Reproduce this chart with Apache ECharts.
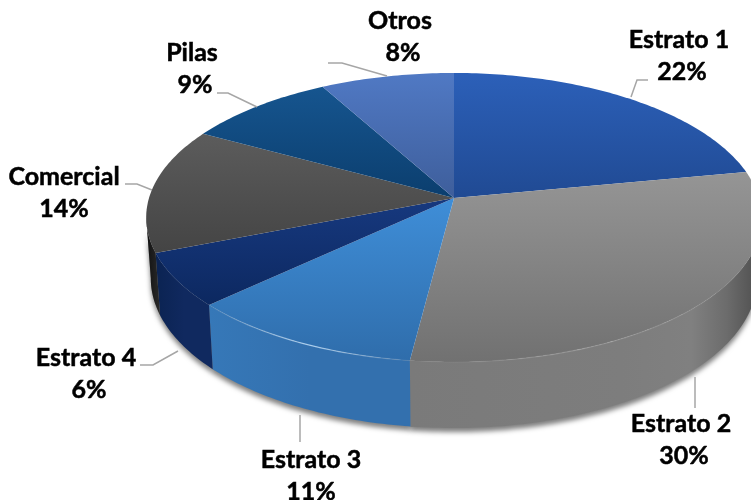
<!DOCTYPE html>
<html><head><meta charset="utf-8">
<style>html,body{margin:0;padding:0;background:#fff}#c{width:751px;height:500px}</style>
<script src="https://cdn.jsdelivr.net/npm/echarts@6/dist/echarts.min.js"></script>
</head><body><div id="c"></div>
<script>
// ---- data ----
const categories = ['Estrato 1','Estrato 2','Estrato 3','Estrato 4','Comercial','Pilas','Otros'];
const shares = [22,30,11,6,14,9,8];
const percentLabels = ['22%','30%','11%','6%','14%','9%','8%'];

// ---- styles ----
const topColors = [['#2c60b9','#204a93'],['#959595','#717171'],['#3f8ed8','#2f6dab'],['#17397f','#0c2860'],['#5c5c5c','#444444'],['#16558f','#0b3e6e'],['#5079c4','#3e5e9b']];
const wallColors = [
  [[0,'#1d4286'],[1,'#1d4286']],
  [[0,'#7a7a7a'],[0.6,'#7d7d7d'],[0.8,'#808080'],[0.9,'#6c6c6c'],[1,'#4c4c4c']],
  [[0,'#3678b8'],[0.5,'#3370ae'],[1,'#3370ae']],
  [[0,'#0b2352'],[0.5,'#10295f'],[1,'#10295f']],
  [[0,'#111111'],[1,'#2a2a2a']],
  [[0,'#0b3e6e'],[1,'#0b3e6e']],
  [[0,'#3e5e9b'],[1,'#3e5e9b']]
];

// ---- layout: projection of the tilted disc, and label placement ----
const P = {cx:454, cy:198, a:305, b:141.9, p:0.135, depth:60, depthV:6, inner:0.985};
const labelPos = [[679,40,682,72],[681,424,684,456],[311,460,311,492],[86,358,89,390],[64,177,64,209],[192,53,195,85],[400,21,403,53]];
const leaders = [
  [[631,97],[637,80],[648,80]],
  [[695,377],[695,408]],
  [[300,415],[300,442]],
  [[178,351],[153,365],[140,365]],
  [[152,190],[137,184],[125,184]],
  [[257,107],[228,93],[217,93]],
  [[387,76],[342,63],[328,63]]
];

const total = shares.reduce((s,v)=>s+v,0);
const visFrom = Math.acos(-P.p), visTo = Math.PI*2-visFrom;
function range(i){
  let before = 0; for(let k=0;k<i;k++) before += shares[k];
  return [before/total*Math.PI*2,(before+shares[i])/total*Math.PI*2];
}
function visibleRange(i){
  const r=range(i), t0=Math.max(r[0],visFrom), t1=Math.min(r[1],visTo);
  return t1>t0 ? [t0,t1] : null;
}
function rim(t){
  const u=Math.sin(t), v=-Math.cos(t), w=1-P.p*v;
  return [P.cx+P.a*u/w, P.cy+P.b*v/w];
}
function base(t){
  const v=-Math.cos(t), r=rim(t);
  return [P.cx+(r[0]-P.cx)*P.inner, r[1]+P.depth+P.depthV*v];
}
function arc(fn,t0,t1){
  const n=Math.max(4,Math.ceil((t1-t0)*60)), pts=[];
  for(let i=0;i<=n;i++) pts.push(fn(t0+(t1-t0)*i/n));
  return pts;
}
function grad(x2,y2,cols){
  return new echarts.graphic.LinearGradient(0,0,x2,y2,cols.map((c,i)=>({offset:i/(cols.length-1),color:c})));
}
function gradStops(stops){
  return new echarts.graphic.LinearGradient(0,0,1,0,stops.map(s=>({offset:s[0],color:s[1]})));
}
function wallPts(r){
  return arc(rim,r[0],r[1]).concat(arc(base,r[0],r[1]).reverse());
}
const dataIdx = shares.map((v,i)=>[i,v]);

const chart = echarts.init(document.getElementById('c'),null,{renderer:'canvas'});
chart.setOption({
  animation:false,
  backgroundColor:'#ffffff',
  series:[
    {type:'custom',coordinateSystem:'none',silent:true,z:1,data:dataIdx,
     renderItem:(pa,api)=>{
       const r=visibleRange(api.value(0));
       if(!r) return null;
       return {type:'polygon',shape:{points:wallPts(r)},
         style:{fill:'#8a8a8a',shadowColor:'rgba(0,0,0,0.5)',shadowBlur:5,shadowOffsetY:4,shadowOffsetX:0}};
     }},
    {type:'custom',coordinateSystem:'none',silent:true,z:2,data:dataIdx,
     renderItem:(pa,api)=>{
       const i=api.value(0), r=visibleRange(i);
       if(!r) return null;
       return {type:'polygon',shape:{points:wallPts(r)},style:{fill:gradStops(wallColors[i])}};
     }},
    {type:'custom',coordinateSystem:'none',silent:true,z:3,data:dataIdx,
     renderItem:(pa,api)=>{
       const i=api.value(0), r=range(i);
       const pts=[[P.cx,P.cy]].concat(arc(rim,r[0],r[1]));
       return {type:'polygon',shape:{points:pts},style:{fill:grad(0,1,topColors[i])}};
     }},
    {type:'custom',coordinateSystem:'none',silent:true,z:4,data:dataIdx,
     renderItem:(pa,api)=>{
       const i=api.value(0), r=range(i), kids=[];
       if(i===1||i===2){
         kids.push({type:'polyline',shape:{points:arc(rim,r[0],r[1])},
           style:{fill:null,lineWidth:1.2,stroke:new echarts.graphic.LinearGradient(0,0,1,0,[
             {offset:0,color:'rgba(255,255,255,0)'},{offset:0.5,color:i===2?'rgba(200,230,255,0.75)':'rgba(255,255,255,0.18)'},{offset:1,color:'rgba(255,255,255,0)'}])}});
       }
       kids.push({type:'polyline',shape:{points:leaders[i]},style:{fill:null,stroke:'#a6a6a6',lineWidth:1.5}});
       const f='bold 25px Lato, sans-serif', lp=labelPos[i];
       const ts={font:f,fill:'#000',stroke:'#000',lineWidth:0.5,align:'center',verticalAlign:'middle'};
       kids.push({type:'text',style:Object.assign({text:categories[i],x:lp[0],y:lp[1]},ts)});
       kids.push({type:'text',style:Object.assign({text:percentLabels[i],x:lp[2],y:lp[3]},ts)});
       return {type:'group',children:kids};
     }}
  ]
});
</script></body></html>
